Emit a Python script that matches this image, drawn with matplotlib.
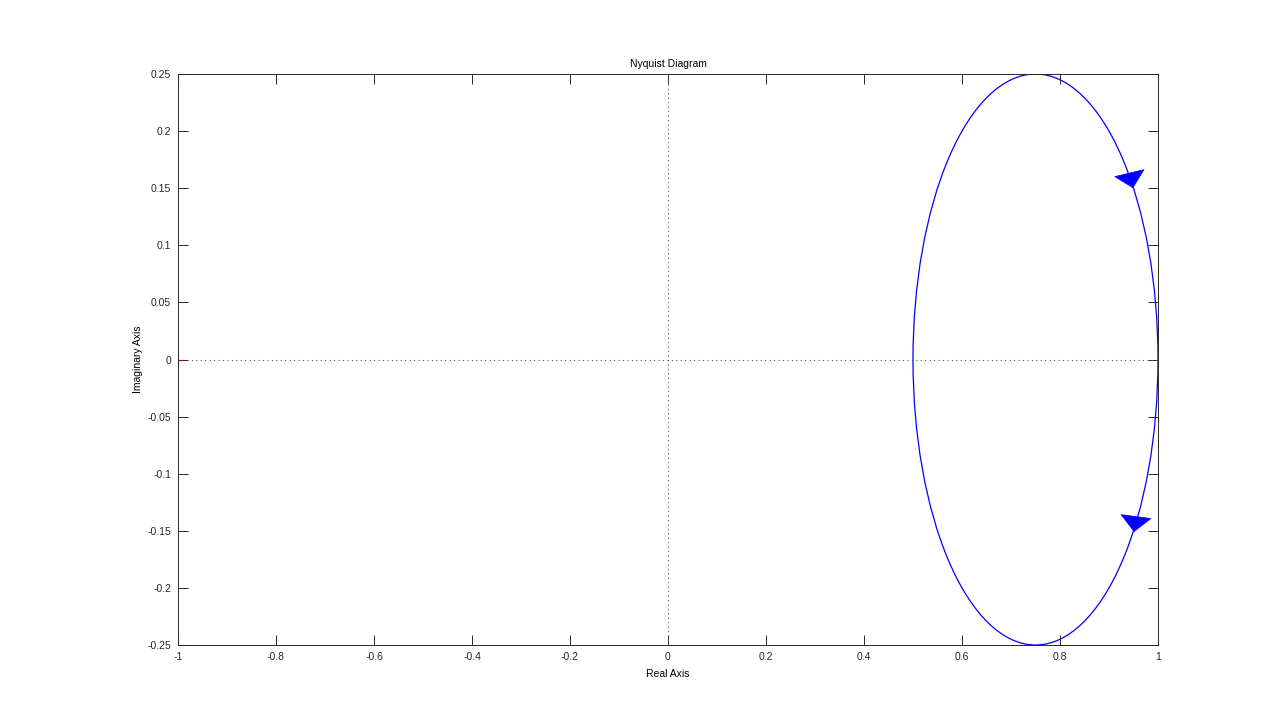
import matplotlib
matplotlib.use('Agg')
import matplotlib.pyplot as plt
from matplotlib.patches import Ellipse

# Nyquist curve: a closed loop (circle in data units)
CENTER = (0.75, 0.0)
WIDTH = 0.5    # real axis span 0.5 .. 1.0
HEIGHT = 0.5   # imaginary span -0.25 .. 0.25

# direction arrows: (tail, tip) in data coords
arrow_tail = [(0.9437, 0.1595), (0.9539, -0.1415)]
arrow_tip = [(0.949, 0.150), (0.951, -0.151)]

x_ticks = [-1, -0.8, -0.6, -0.4, -0.2, 0, 0.2, 0.4, 0.6, 0.8, 1]
y_ticks = [-0.25, -0.2, -0.15, -0.1, -0.05, 0, 0.05, 0.1, 0.15, 0.2, 0.25]

plt.rcParams['font.family'] = ['Liberation Sans', 'DejaVu Sans']
plt.rcParams['font.size'] = 7.5

fig = plt.figure(figsize=(12.81, 7.26), dpi=100)
ax = fig.add_axes([178 / 1281, 81 / 726, 980 / 1281, 571 / 726])

# reference lines through the origin
ax.axhline(0, color='#555555', lw=0.8, ls=(0, (1, 3)))
ax.axvline(0, color='#555555', lw=0.8, ls=(0, (1, 3)))

# critical point -1 + 0j
ax.plot([-1], [0], marker='+', color='#cc0000', ms=9, mew=0.8)

ax.add_patch(Ellipse(CENTER, WIDTH, HEIGHT, fill=False, color='#0000ff', lw=0.9))

for tail, tip in zip(arrow_tail, arrow_tip):
    ax.annotate('', xy=tip, xytext=tail,
                arrowprops=dict(arrowstyle='-|>,head_length=0.6,head_width=0.6',
                                mutation_scale=18, color='#0000ff', lw=0.5,
                                shrinkA=0, shrinkB=0))

ax.set_xlim(-1, 1)
ax.set_ylim(-0.25, 0.25)
ax.set_xticks(x_ticks)
ax.set_yticks(y_ticks)
ax.set_xticklabels(['%g' % v for v in x_ticks])
ax.set_yticklabels(['%g' % v for v in y_ticks])
ax.tick_params(direction='in', length=7, width=0.7, top=True, right=True,
               colors='#262626', pad=5)
for s in ax.spines.values():
    s.set_linewidth(0.7)
    s.set_color('#262626')

ax.set_title('Nyquist Diagram', fontsize=7.5, pad=5)
ax.set_xlabel('Real Axis', labelpad=5)
ax.set_ylabel('Imaginary Axis', labelpad=3)

fig.savefig('out.png', dpi=100)
